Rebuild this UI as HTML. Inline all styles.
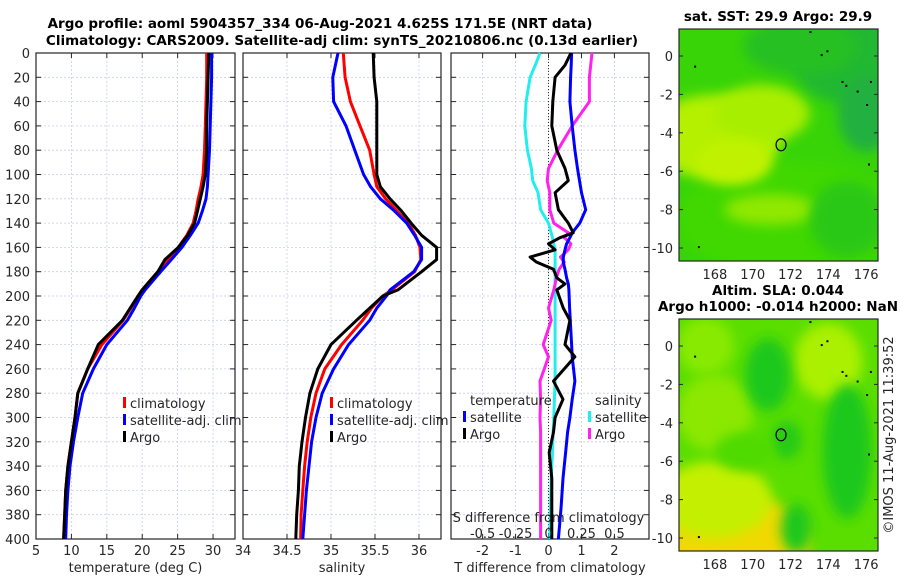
<!DOCTYPE html>
<html><head><meta charset="utf-8"><style>
body{margin:0;background:#fff;}
svg{display:block;font-family:"DejaVu Sans","Liberation Sans",sans-serif;}
.t{font-size:13px;fill:#262626;}
.ti{font-size:13.5px;font-weight:bold;fill:#000;}
</style></head><body>
<svg id="c" width="900" height="580" viewBox="0 0 900 580">
<defs>
<filter id="bl" x="-50%" y="-50%" width="200%" height="200%"><feGaussianBlur stdDeviation="6"/></filter>
<clipPath id="cm1"><rect x="679" y="29" width="199" height="232"/></clipPath>
<clipPath id="cm2"><rect x="679" y="319" width="199" height="232"/></clipPath>
</defs>
<text class="ti" x="320" y="28" text-anchor="middle">Argo profile: aoml 5904357_334 06-Aug-2021 4.625S 171.5E (NRT data)</text>
<text class="ti" x="342" y="45" text-anchor="middle">Climatology: CARS2009. Satellite-adj clim: synTS_20210806.nc (0.13d earlier)</text>
<g id="g"></g>
</svg>
<script>
// ---------- data ----------
const depths = [0,20,40,60,80,100,110,120,130,140,150,160,170,180,195,200,210,220,240,260,280,300,320,340,360,380,400];
const tempClim = [29.1,29.1,29.0,28.9,28.8,28.6,28.3,27.9,27.6,27.2,26.3,25.1,23.7,22.2,20.0,19.4,18.4,17.3,14.3,12.3,10.9,10.5,10.0,9.5,9.2,9.05,8.9];
const tempSat  = [29.8,29.8,29.7,29.6,29.5,29.3,29.2,29.0,28.5,27.9,26.8,25.6,24.1,22.6,20.4,19.8,18.9,17.9,15.0,13.1,11.6,10.9,10.3,9.8,9.5,9.3,9.2];
const tempArgo = [29.4,29.3,29.2,29.1,29.1,28.9,28.6,28.2,27.8,27.4,26.4,25.1,23.2,22.2,20.0,19.4,18.3,17.2,13.8,12.3,10.9,10.5,10.0,9.5,9.2,9.05,8.9];
const salClim = [35.14,35.16,35.22,35.33,35.44,35.49,35.52,35.62,35.75,35.88,35.96,36.01,36.02,35.95,35.69,35.59,35.46,35.36,35.12,34.93,34.83,34.77,34.73,34.70,34.68,34.66,34.655];
const salSat  = [35.08,35.02,35.03,35.17,35.27,35.37,35.45,35.56,35.72,35.86,35.95,36.03,36.03,35.94,35.67,35.63,35.52,35.44,35.20,35.03,34.90,34.83,34.78,34.75,34.72,34.70,34.68];
const salArgo = [35.48,35.49,35.52,35.52,35.52,35.52,35.56,35.67,35.80,35.91,36.03,36.20,36.20,36.03,35.76,35.59,35.44,35.29,35.00,34.85,34.76,34.71,34.67,34.64,34.63,34.61,34.60];
const dDepths = [0,10,20,40,60,80,95,105,115,129,140,148,152,157,162,168,172,178,185,190,195,210,220,240,250,270,285,300,312,329,350,375,400];
const dTSat  = [0.70,0.69,0.67,0.65,0.72,0.80,0.88,0.94,1.0,1.13,0.95,0.72,0.65,0.55,0.5,0.45,0.45,0.5,0.55,0.6,0.62,0.64,0.66,0.7,0.72,0.8,0.72,0.65,0.58,0.52,0.44,0.38,0.30];
const dTArgo = [0.68,0.5,0.2,0.13,0.10,0.25,0.5,0.6,0.2,0.3,0.6,0.75,0.35,0.0,0.2,-0.56,-0.37,0.15,0.25,0.5,0.25,0.45,0.65,0.5,0.8,0.15,0.44,0.2,0.15,0.02,0.1,0.1,0.1];
const dSArgo = [0.33,0.32,0.31,0.31,0.18,0.07,0.0,-0.01,0.01,0.01,0.04,0.15,0.12,0.17,0.15,0.09,0.12,0.08,0.06,0.05,0.04,0.0,0.02,-0.04,0.0,-0.065,-0.06,-0.065,-0.06,-0.06,-0.06,-0.06,-0.06];
const dSSat  = [-0.065,-0.10,-0.14,-0.17,-0.18,-0.16,-0.13,-0.12,-0.08,-0.06,0.0,0.02,0.03,0.04,0.05,0.05,0.05,0.05,0.05,0.05,0.05,0.05,0.05,0.05,0.05,0.05,0.045,0.04,0.035,0.03,0.02,0.015,0.01];
const depthTicks = [0,20,40,60,80,100,120,140,160,180,200,220,240,260,280,300,320,340,360,380,400];
const tTicks = [5,10,15,20,25,30];
const sTicks = [34,34.5,35,35.5,36];
const dTTicks = [-2,-1,0,1,2];
const dSTicks = [-0.5,-0.25,0,0.25,0.5];
const dSTickLabels = ["-0.5","-0.25","0","0.25","0.5"];
const latTicks = [0,-2,-4,-6,-8,-10];
const lonTicks = [168,170,172,174,176];

// ---------- helpers ----------
const NS="http://www.w3.org/2000/svg";
const G=document.getElementById('g');
function mk(tag,at,par){const e=document.createElementNS(NS,tag);for(const k in at)e.setAttribute(k,at[k]);(par||G).appendChild(e);return e;}
const Y0=53,Y1=539;
const yD=d=>Y0+(Y1-Y0)*d/400;
const GRID='#c9cde8';

function panel(name,x0,x1,xmin,xmax,ticks,labels,title,showY){
  const xs=v=>x0+(x1-x0)*(v-xmin)/(xmax-xmin);
  depthTicks.forEach(d=>{
    const l=mk('line',{x1:x0,x2:x1,y1:yD(d),y2:yD(d),stroke:GRID,'stroke-width':0.8,'stroke-dasharray':'2,2'});
    
    
    mk('line',{x1:x0,x2:x0+5,y1:yD(d),y2:yD(d),stroke:'#262626'});
    mk('line',{x1:x1-5,x2:x1,y1:yD(d),y2:yD(d),stroke:'#262626'});
    if(showY){const t=mk('text',{x:x0-6,y:yD(d)+5,'text-anchor':'end',class:'t'});t.textContent=d;
      
      }
  });
  ticks.forEach((v,i)=>{
    const X=xs(v);
    if(X>x0+1&&X<x1-1){
      const l=mk('line',{x1:X,x2:X,y1:Y0,y2:Y1,stroke:GRID,'stroke-width':0.8,'stroke-dasharray':'2,2'});
      
      
      mk('line',{x1:X,x2:X,y1:Y0,y2:Y0+5,stroke:'#262626'});
      mk('line',{x1:X,x2:X,y1:Y1-5,y2:Y1,stroke:'#262626'});
    }
    const t=mk('text',{x:X,y:555,'text-anchor':'middle',class:'t'});t.textContent=labels?labels[i]:v;
    
    
  });
  const r=mk('rect',{x:x0,y:Y0,width:x1-x0,height:Y1-Y0,fill:'none',stroke:'#262626','stroke-width':1.2});
  
  
  const tt=mk('text',{x:(x0+x1)/2,y:572,'text-anchor':'middle',class:'t'});tt.textContent=title;
  
  
  return xs;
}
function line(name,xs,vals,deps,color){
  const p=vals.map((v,i)=>xs(v).toFixed(1)+','+yD(deps[i]).toFixed(1)).join(' ');
  const l=mk('polyline',{points:p,fill:'none',stroke:color,'stroke-width':3,'stroke-linejoin':'round'});
  
  
}
function legend(name,x,y,items){
  items.forEach((it,i)=>{
    const yy=y+i*17;
    if(it[1]){const m=mk('rect',{x:x,y:yy-11,width:3,height:11,fill:it[1]});
      
      }
    const t=mk('text',{x:x+(it[1]?7:0),y:yy,class:'t'});t.textContent=it[0];
    
    
  });
}

// panel 1
const xT=panel('temperature-panel',36,235,5,33.1,tTicks,null,'temperature (deg C)',true);
line('temp-climatology-line',xT,tempClim,depths,'#ff0000');
line('temp-satellite-line',xT,tempSat,depths,'#0000ff');
line('temp-argo-line',xT,tempArgo,depths,'#000000');
legend('temp-legend',123,408,[['climatology','#ff0000'],['satellite-adj. clim','#0000ff'],['Argo','#000']]);
// panel 2
const xS=panel('salinity-panel',243,441,34,36.25,sTicks,null,'salinity',false);
line('sal-climatology-line',xS,salClim,depths,'#ff0000');
line('sal-satellite-line',xS,salSat,depths,'#0000ff');
line('sal-argo-line',xS,salArgo,depths,'#000000');
legend('sal-legend',330,408,[['climatology','#ff0000'],['satellite-adj. clim','#0000ff'],['Argo','#000']]);
// panel 3
const xD=panel('difference-panel',451,649,-2.96,3.05,dTTicks,null,'T difference from climatology',false);
const xSD=v=>xD(v*4);
mk('line',{x1:xD(0),x2:xD(0),y1:Y0,y2:Y1,stroke:'#333','stroke-width':1,'stroke-dasharray':'1,2'});
line('sdiff-satellite-line',xSD,dSSat,dDepths,'#22eeee');
line('sdiff-argo-line',xSD,dSArgo,dDepths,'#ff22ee');
line('tdiff-satellite-line',xD,dTSat,dDepths,'#0000ff');
line('tdiff-argo-line',xD,dTArgo,dDepths,'#000000');
legend('tdiff-legend',470,405,[['temperature',null]]);
legend('tdiff-legend',463,422,[['satellite','#0000ff'],['Argo','#000']]);
legend('sdiff-legend',595,405,[['salinity',null]]);
legend('sdiff-legend',588,422,[['satellite','#22eeee'],['Argo','#ff22ee']]);
{const t=mk('text',{x:xD(0),y:522,'text-anchor':'middle',class:'t'});t.textContent='S difference from climatology';
}
dSTicks.forEach((v,i)=>{const t=mk('text',{x:xSD(v),y:538,'text-anchor':'middle',class:'t'});t.textContent=dSTickLabels[i];

});

// maps
const lonX=l=>679+(l-166.1)*18.9;
function map(name,y0,lat0y,blobs,base,title1,title2){
  const latY=la=>lat0y-la*19.2;
  const g=mk('g',{'clip-path':'url(#'+(y0<300?'cm1':'cm2')+')'});
  
  
  mk('rect',{x:679,y:y0,width:199,height:232,fill:base},g);
  blobs.forEach(b=>mk('ellipse',{cx:lonX(b[0]),cy:latY(b[1]),rx:b[2]*18.9,ry:b[3]*19.2,fill:b[4],filter:'url(#bl)'},g));
  const c=mk('ellipse',{cx:lonX(171.5),cy:latY(-4.625),rx:5,ry:6,fill:'none',stroke:'#000','stroke-width':1.2});
  
  
  [[173,1.3],[173.6,0.1],[173.9,0.3],[174.7,-1.3],[174.9,-1.5],[175.5,-1.8],[176.2,-1.3],[176,-2.5],[176.1,-5.6],[166.9,-0.5],[167.1,-9.9]].forEach(p=>mk('rect',{x:lonX(p[0]),y:latY(p[1]),width:2,height:2,fill:'#000'}));
  mk('rect',{x:679,y:y0,width:199,height:232,fill:'none',stroke:'#262626','stroke-width':1.2});
  latTicks.forEach(la=>{const t=mk('text',{x:673,y:latY(la)+5,'text-anchor':'end',class:'t'});t.textContent=la;
    
    
    mk('line',{x1:679,x2:683,y1:latY(la),y2:latY(la),stroke:'#262626'});
    mk('line',{x1:874,x2:878,y1:latY(la),y2:latY(la),stroke:'#262626'});});
  lonTicks.forEach(lo=>{const t=mk('text',{x:lonX(lo),y:y0+232+18,'text-anchor':'middle',class:'t'});t.textContent=lo;
    
    });
  [title1,title2].forEach((s,i)=>{if(!s)return;const t=mk('text',{x:778,y:(title2?y0-24:y0-8)+i*16,'text-anchor':'middle',class:'ti'});t.textContent=s;
    
    });
}
map('sst-map',29,56,[
  [172,-8.5,6,3,'#40d800'],[168,-4.2,3.5,2.2,'#b4f000'],[170.5,-3,2.5,1.5,'#a8ee00'],[169,-5.5,2,1.2,'#c0f200'],
  [171,-8,2.5,0.8,'#90e800'],[175,0,3,2.5,'#20b830'],[172.5,0.5,3,1.5,'#26c020'],[176,-3,1.5,2,'#20b040'],[175,-8.5,2,2,'#2cc818']
],'#38d408','sat. SST: 29.9 Argo: 29.9',null);
map('sla-map',319,346,[
  [169,-10.5,4,2.8,'#f0d800'],[168,-8,3,2,'#c4f000'],[168,-3.5,2,2,'#8ce800'],[174,-0.8,1.8,2,'#aaf000'],[167.5,0,1.5,1.5,'#88ea00'],
  [170.8,-1.5,1.2,1.9,'#1ec81a'],[175,-5.5,1.3,3.5,'#1ec81a'],[172.3,-9.5,0.8,1.3,'#1ec81a'],[171.8,-4.9,0.8,1,'#28ca18'],
  [169.5,-5.5,1.5,1,'#50da00']
],'#5ade00','Altim. SLA: 0.044','Argo h1000: -0.014 h2000: NaN');
{const t=mk('text',{x:0,y:0,class:'t',transform:'translate(893,435) rotate(-90)','text-anchor':'middle'});t.textContent='\u00A9IMOS 11-Aug-2021 11:39:52';

}
</script>
</body></html>
